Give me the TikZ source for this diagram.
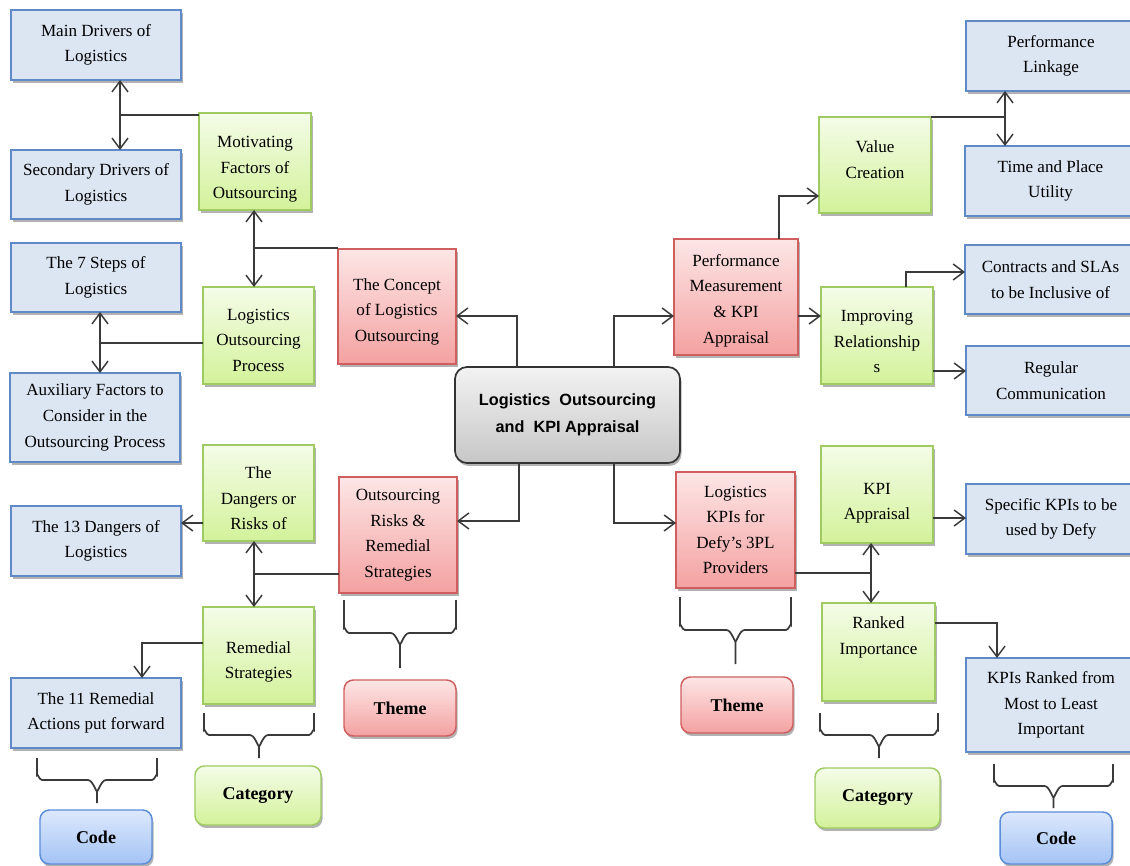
\documentclass[tikz,border=0pt]{standalone}
\usepackage{fontspec}
\setmainfont{Liberation Serif}
\newfontfamily\ctrfont{Liberation Sans}
\usetikzlibrary{arrows.meta,shadows,calc}
\definecolor{bluefill}{HTML}{DCE6F2}
\definecolor{blueline}{HTML}{5F8AC7}
\definecolor{greentop}{HTML}{F4FCE8}
\definecolor{greenbot}{HTML}{D3F29A}
\definecolor{greenline}{HTML}{9FCB62}
\definecolor{redtop}{HTML}{FDE6E6}
\definecolor{redbot}{HTML}{F4A1A1}
\definecolor{redline}{HTML}{CF5E5E}
\definecolor{codetop}{HTML}{DCE8FC}
\definecolor{codebot}{HTML}{A4C3F5}
\definecolor{codeline}{HTML}{5C8DDB}
\definecolor{conn}{HTML}{3A3A3A}
\newcommand\bx[7]{\node[#1, minimum width={(#5-#3)*0.75pt}, minimum height={(#6-#4)*0.75pt}] (#2) at ({(#3+#5)/2},{(#4+#6)/2}) {#7};}
\newcommand\sh[2]{\raisebox{-#1}[\height][\depth]{\begin{tabular}{@{}c@{}}#2\end{tabular}}}
\newcommand\brc[6]{%
  \coordinate (#1a) at (#2,#4);
  \coordinate (#1b) at (#3,#4);
  \coordinate (#1c) at ({(#2+#3)/2},#6);
  \draw[bracestyle] (#1a) -- ($(#1a |- 0,#5)+(0,-5)$) to[out=90,in=180] ($(#1a |- 0,#5)+(5,0)$) -- ($(#1c |- 0,#5)+(-9,0)$) to[out=0,in=-90] ($(#1c |- 0,#5)+(0,10)$) -- (#1c);
  \draw[bracestyle] (#1b) -- ($(#1b |- 0,#5)+(0,-5)$) to[out=90,in=0] ($(#1b |- 0,#5)+(-5,0)$) -- ($(#1c |- 0,#5)+(9,0)$) to[out=180,in=-90] ($(#1c |- 0,#5)+(0,10)$);
}
\tikzset{
  base/.style={draw, inner sep=0pt, outer sep=0pt, align=center, line width=1.1pt,
    font=\fontsize{12.8}{19.2}\selectfont,
    drop shadow={shadow xshift=1.2pt, shadow yshift=-2.2pt, opacity=0.3, fill=black}},
  bluebox/.style={base, fill=bluefill, draw=blueline},
  greenbox/.style={base, top color=greentop, bottom color=greenbot, draw=greenline},
  redbox/.style={base, top color=redtop, bottom color=redbot, draw=redline},
  ctrbox/.style={base, top color=white!95!black, bottom color=black!22, draw=black!80, line width=1.3pt,
    rounded corners=9pt, font=\ctrfont\bfseries\fontsize{12.2}{20}\selectfont},
  codebox/.style={base, top color=codetop, bottom color=codebot, draw=codeline, rounded corners=7pt,
    font=\bfseries\fontsize{13.5}{16}\selectfont},
  catbox/.style={greenbox, rounded corners=7pt, font=\bfseries\fontsize{13.5}{16}\selectfont},
  themebox/.style={redbox, rounded corners=7pt, font=\bfseries\fontsize{13.5}{16}\selectfont},
  conline/.style={draw=conn, line width=1.3pt},
  arr/.style={conline, -{Straight Barb[length=8pt,width=12pt,line width=1.1pt]}},
  bracestyle/.style={draw=conn, line width=1.3pt}
}
\begin{document}
\begin{tikzpicture}[x=0.75pt,y=-0.75pt]
\useasboundingbox[fill=white] (0,0) rectangle (1130,866);
% left blue
\bx{bluebox}{mdl}{11}{10}{181}{80}{Main Drivers of\\Logistics}
\bx{bluebox}{sdl}{11}{150}{181}{219}{Secondary Drivers of\\Logistics}
\bx{bluebox}{stp}{11}{243}{181}{312}{The 7 Steps of\\Logistics}
\bx{bluebox}{aux}{10}{373}{180}{462}{Auxiliary Factors to\\Consider in the\\Outsourcing Process}
\bx{bluebox}{dth}{11}{506}{181}{576}{The 13 Dangers of\\Logistics}
\bx{bluebox}{rel}{11}{678}{181}{748}{The 11 Remedial\\Actions put forward}
% left green
\bx{greenbox}{mot}{199}{113}{311}{210}{\sh{5pt}{Motivating\\Factors of\\Outsourcing}}
\bx{greenbox}{lop}{203}{287}{314}{384}{\sh{4pt}{Logistics\\Outsourcing\\Process}}
\bx{greenbox}{dng}{203}{445}{314}{541}{\sh{4.5pt}{The\\Dangers or\\Risks of}}
\bx{greenbox}{rem}{203}{607}{314}{704}{\sh{4pt}{Remedial\\Strategies}}
% red
\bx{redbox}{con}{338}{249}{456}{364}{\sh{3pt}{The Concept\\of Logistics\\Outsourcing}}
\bx{redbox}{ors}{339}{477}{457}{593}{Outsourcing\\Risks \&\\Remedial\\Strategies}
\bx{redbox}{pm}{674}{239}{798}{355}{\sh{2pt}{Performance\\Measurement\\\& KPI\\Appraisal}}
\bx{redbox}{lk}{676}{472}{795}{588}{Logistics\\KPIs for\\Defy’s 3PL\\Providers}
% center
\bx{ctrbox}{ctr}{455}{367}{680}{463}{Logistics~~Outsourcing\\and~~KPI Appraisal}
% right green
\bx{greenbox}{vc}{819}{117}{931}{213}{Value\\Creation\\[-11pt]\mbox{}}
\bx{greenbox}{ir}{821}{287}{933}{384}{\sh{5pt}{Improving\\Relationship\\s}}
\bx{greenbox}{kpa}{821}{446}{933}{543}{\sh{5.5pt}{KPI\\Appraisal}}
\bx{greenbox}{rnk}{822}{603}{935}{701}{Ranked\\Importance\\[5pt]\mbox{}}
% right blue
\bx{bluebox}{pl}{966}{21}{1136}{91}{Performance\\Linkage}
\bx{bluebox}{tp}{965}{146}{1136}{216}{Time and Place\\Utility}
\bx{bluebox}{csl}{965}{245}{1136}{314}{Contracts and SLAs\\to be Inclusive of}
\bx{bluebox}{rc}{966}{346}{1136}{415}{Regular\\Communication}
\bx{bluebox}{sk}{966}{484}{1136}{554}{Specific KPIs to be\\used by Defy}
\bx{bluebox}{kr}{966}{658}{1136}{752}{KPIs Ranked from\\Most to Least\\Important}
% legend boxes
\bx{codebox}{cd1}{40}{810}{152}{864}{Code}
\bx{catbox}{ct1}{195}{766}{321}{825}{Category}
\bx{themebox}{th1}{344}{680}{456}{736}{Theme}
\bx{themebox}{th2}{681}{677}{793}{733}{Theme}
\bx{catbox}{ct2}{815}{768}{940}{828}{Category}
\bx{codebox}{cd2}{1000}{812}{1112}{864}{Code}
% braces
\brc{b1}{37}{157}{758}{780}{803}
\brc{b2}{204}{314}{713}{735}{758}
\brc{b3}{344}{456}{600}{633}{668}
\brc{b4}{680}{791}{597}{630}{664}
\brc{b5}{820}{938}{713}{735}{758}
\brc{b6}{994}{1113}{764}{786}{808}
% junction coordinates
\coordinate (j1) at (120,115);
\coordinate (j2) at (254,248);
\coordinate (j3) at (100,343);
\coordinate (j4) at (254,574);
\coordinate (j5) at (203,523);
\coordinate (j6) at (142,643);
\coordinate (c1) at (517,316);
\coordinate (c2) at (614,316);
\coordinate (c3) at (519,521);
\coordinate (c4) at (614,523);
\coordinate (c5) at (779,196);
\coordinate (c6) at (798,316);
\coordinate (j7) at (1005,117);
\coordinate (c7) at (906,272);
\coordinate (c8) at (933,371);
\coordinate (c9) at (933,518);
\coordinate (j8) at (871,573);
\coordinate (c10) at (997,623);
% left connectors
\draw[arr] (j1) -- (j1 |- mdl.south);
\draw[arr] (j1) -- (j1 |- sdl.north);
\draw[conline] (j1) -- (j1 -| mot.west);
\draw[arr] (j2) -- (j2 |- mot.south);
\draw[arr] (j2) -- (j2 |- lop.north);
\draw[conline] (j2) -- (j2 -| con.west);
\draw[arr] (j3) -- (j3 |- stp.south);
\draw[arr] (j3) -- (j3 |- aux.north);
\draw[conline] (j3) -- (j3 -| lop.west);
\draw[arr] (j4) -- (j4 |- dng.south);
\draw[arr] (j4) -- (j4 |- rem.north);
\draw[conline] (j4) -- (j4 -| ors.west);
\draw[arr] (j5 -| dng.west) -- (j5 -| dth.east);
\draw[arr] (j6 -| rem.west) -- (j6) -- (j6 |- rel.north);
% center connectors
\draw[arr] (c1 |- ctr.north) -- (c1) -- (c1 -| con.east);
\draw[arr] (c2 |- ctr.north) -- (c2) -- (c2 -| pm.west);
\draw[arr] (c3 |- ctr.south) -- (c3) -- (c3 -| ors.east);
\draw[arr] (c4 |- ctr.south) -- (c4) -- (c4 -| lk.west);
% right connectors
\draw[arr] (c5 |- pm.north) -- (c5) -- (c5 -| vc.west);
\draw[arr] (c6 -| pm.east) -- (c6 -| ir.west);
\draw[conline] (vc.north east) -- (j7);
\draw[arr] (j7) -- (j7 |- pl.south);
\draw[arr] (j7) -- (j7 |- tp.north);
\draw[arr] (c7 |- ir.north) -- (c7) -- (c7 -| csl.west);
\draw[arr] (c8 -| ir.east) -- (c8 -| rc.west);
\draw[arr] (c9 -| kpa.east) -- (c9 -| sk.west);
\draw[conline] (j8 -| lk.east) -- (j8);
\draw[arr] (j8) -- (j8 |- kpa.south);
\draw[arr] (j8) -- (j8 |- rnk.north);
\draw[arr] (c10 -| rnk.east) -- (c10) -- (c10 |- kr.north);
\end{tikzpicture}
\end{document}
